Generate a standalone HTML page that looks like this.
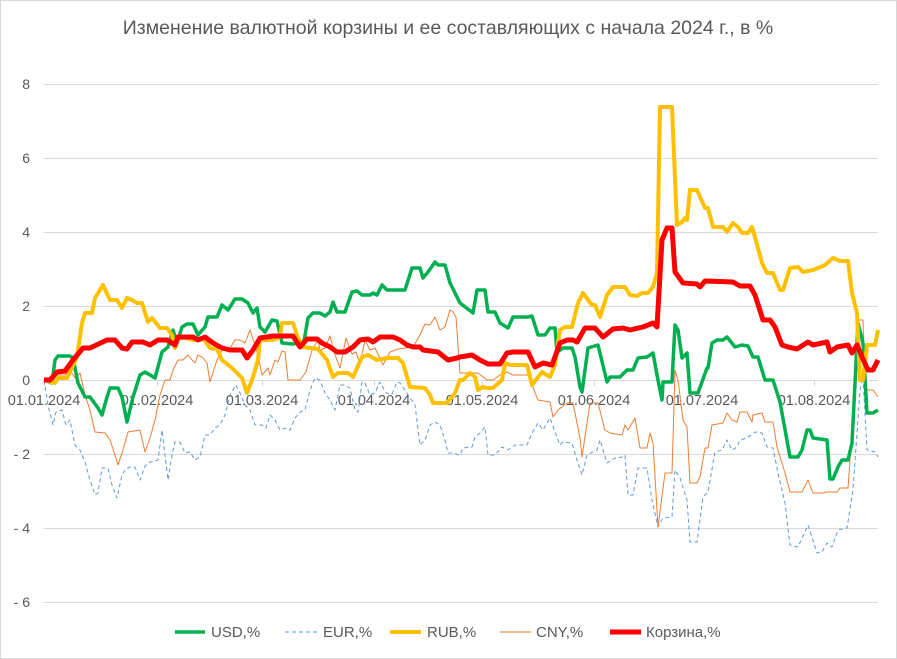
<!DOCTYPE html>
<html><head><meta charset="utf-8"><style>
body{margin:0;background:#fff}
svg{display:block;font-family:"Liberation Sans","DejaVu Sans",sans-serif}
</style></head><body>
<svg width="897" height="659" viewBox="0 0 897 659" xmlns="http://www.w3.org/2000/svg">
<rect x="0.5" y="0.5" width="896" height="658" fill="#fff" stroke="#d9d9d9"/>
<text x="448" y="34" text-anchor="middle" font-size="19.5" fill="#595959">Изменение валютной корзины и ее составляющих с начала 2024 г., в %</text>
<g stroke="#d9d9d9" stroke-width="1">
<line x1="44" x2="878" y1="84.5" y2="84.5"/><line x1="44" x2="878" y1="158.5" y2="158.5"/>
<line x1="44" x2="878" y1="232.5" y2="232.5"/><line x1="44" x2="878" y1="306.5" y2="306.5"/>
<line x1="44" x2="878" y1="380.5" y2="380.5"/><line x1="44" x2="878" y1="454.5" y2="454.5"/>
<line x1="44" x2="878" y1="528.5" y2="528.5"/><line x1="44" x2="878" y1="602.5" y2="602.5"/>
<line x1="44.5" x2="44.5" y1="380" y2="386"/><line x1="157.5" x2="157.5" y1="380" y2="386"/>
<line x1="262.5" x2="262.5" y1="380" y2="386"/><line x1="374.5" x2="374.5" y1="380" y2="386"/>
<line x1="482.5" x2="482.5" y1="380" y2="386"/><line x1="594.5" x2="594.5" y1="380" y2="386"/>
<line x1="702.5" x2="702.5" y1="380" y2="386"/><line x1="814.5" x2="814.5" y1="380" y2="386"/>
</g>
<g font-size="14" fill="#595959" text-anchor="end">
<text x="30" y="89">8</text><text x="30" y="163">6</text><text x="30" y="237">4</text><text x="30" y="311">2</text><text x="30" y="385">0</text>
<text x="30" y="459">- 2</text><text x="30" y="533">- 4</text><text x="30" y="607">- 6</text>
</g>
<g font-size="14.5" fill="#595959" text-anchor="middle">
<text x="44" y="405">01.01.2024</text><text x="157" y="405">01.02.2024</text><text x="262" y="405">01.03.2024</text><text x="374" y="405">01.04.2024</text>
<text x="482" y="405">01.05.2024</text><text x="594" y="405">01.06.2024</text><text x="702" y="405">01.07.2024</text><text x="814" y="405">01.08.2024</text>
</g>
<g fill="none" stroke-linejoin="round">
<polyline stroke="#5b9bd5" stroke-width="1" stroke-dasharray="4,3" points="44,380 48,405 53,425 56,412 62,410 66,425 70,420 75,445 80,450 85,462 90,480 95,495 98,493 102,468 108,468 112,485 117,498 122,475 125,470 130,467 135,467 140,480 145,466 150,462 158,460 162,430 168,480 172,455 175,442 180,442 185,453 190,452 195,460 200,457 205,435 210,435 215,428 220,425 225,415 230,395 236,385 240,393 245,405 250,410 255,425 262,425 266,428 270,415 275,420 280,430 285,428 290,430 295,418 300,412 305,410 310,390 315,378 320,380 325,393 330,400 335,410 340,385 345,385 350,388 355,410 358,412 362,382 365,383 370,395 375,393 380,382 386,393 392,394 397,382 400,383 405,390 410,398 415,405 420,445 425,440 430,425 435,422 440,425 445,440 448,453 452,453 460,455 463,448 472,447 475,437 480,433 485,427 488,455 495,455 502,447 508,450 515,445 527,445 532,433 538,423 543,430 550,418 555,432 560,445 563,442 572,443 577,460 582,475 587,455 597,450 600,440 607,463 615,458 622,457 625,455 628,495 633,495 638,468 647,468 652,500 658,527 663,518 672,517 675,470 680,478 687,500 690,542 697,542 703,497 708,492 715,452 722,450 727,440 732,450 737,447 740,440 747,438 755,432 762,433 767,447 773,448 778,473 785,503 790,545 798,547 808,525 817,553 822,552 827,543 832,547 838,530 847,528 853,490 860,390 863,377 867,450 875,452 878,457"/>
<polyline stroke="#ed7d31" stroke-width="1" points="44,380 52,382 57,375 65,375 70,370 75,378 80,373 85,395 90,410 95,432 105,433 110,440 115,455 118,465 123,450 128,432 140,430 145,452 150,438 155,420 160,395 165,380 170,380 173,370 178,360 183,360 188,355 192,360 195,363 198,355 203,358 207,363 210,382 217,360 222,350 230,348 235,340 240,340 245,343 250,330 255,345 258,355 262,375 268,368 270,375 275,360 278,362 282,351 285,352 288,380 300,380 306,372 312,350 318,340 320,350 325,348 330,336 335,355 340,368 346,338 352,354 356,352 360,364 365,340 370,350 375,348 383,365 390,352 398,349 413,347 420,335 425,324 430,325 435,317 440,330 445,327 450,310 453,312 456,317 460,373 478,373 487,380 493,380 500,375 507,372 513,375 528,375 538,400 550,402 553,417 558,410 567,403 573,403 580,438 582,457 590,403 598,403 605,430 610,433 622,435 625,425 628,430 635,418 640,448 647,448 650,433 653,443 658,527 665,473 672,473 675,370 678,380 683,420 687,427 690,483 697,483 700,477 705,448 708,448 712,425 723,423 727,413 732,420 737,422 740,412 747,412 752,422 753,415 762,413 765,422 773,422 777,447 785,473 790,492 802,492 808,480 813,493 823,493 827,492 837,492 840,488 848,488 855,390 858,320 863,320 865,390 873,390 878,397"/>
<polyline stroke="#00b050" stroke-width="3.5" points="44,380 52,383 55,360 58,356 70,356 73,358 78,383 85,397 90,397 98,408 102,415 107,397 110,388 118,388 122,397 127,422 133,397 140,375 145,372 150,375 155,378 162,352 168,347 173,330 177,343 182,327 187,324 193,324 198,335 205,327 208,317 217,317 222,305 228,310 235,299 242,299 248,303 253,313 257,308 260,327 265,332 272,320 277,321 282,343 293,344 297,343 303,347 308,318 313,313 320,313 325,316 330,312 333,302 337,312 345,312 352,292 357,291 362,295 370,295 373,293 377,295 382,285 387,290 405,290 412,268 420,268 423,278 428,272 435,262 438,265 445,265 450,283 455,293 460,303 473,313 477,290 485,290 488,312 495,312 500,323 508,328 513,317 528,317 532,316 538,335 545,335 550,328 555,328 557,352 563,348 572,348 575,357 580,387 582,392 588,348 598,345 607,382 610,377 620,377 627,370 633,370 638,358 647,357 653,353 657,375 662,400 663,382 672,382 675,325 678,330 682,358 687,353 690,393 698,393 707,368 708,368 712,343 717,340 723,340 727,337 735,347 742,345 748,346 753,357 758,357 765,380 773,380 780,402 790,457 798,457 802,450 807,430 810,430 813,438 827,440 830,479 833,479 838,467 842,460 848,460 852,443 858,323 863,343 867,413 873,413 878,410"/>
<polyline stroke="#ffc000" stroke-width="4" points="44,380 55,383 58,378 67,378 77,357 82,323 85,313 92,313 95,298 103,285 110,300 117,300 122,308 127,298 132,300 137,303 142,303 148,322 152,318 160,328 167,328 172,335 175,348 178,338 187,338 193,340 203,338 210,348 217,349 222,360 232,368 242,378 247,393 253,377 258,360 260,340 273,340 280,337 282,323 293,323 298,338 303,347 310,348 318,349 327,360 333,377 338,373 348,373 353,377 362,357 368,355 377,360 387,358 398,358 403,363 410,387 425,388 430,395 433,403 447,403 455,393 460,380 463,380 470,373 475,377 478,390 483,387 487,388 493,388 502,380 505,363 510,365 527,365 532,385 542,372 550,377 555,365 560,330 565,327 572,327 578,303 583,293 592,305 595,305 600,317 607,295 613,287 625,287 630,295 637,296 642,293 648,293 653,287 657,273 660,107 672,107 677,225 682,222 685,218 687,220 690,190 697,190 705,208 708,208 713,227 723,227 727,232 733,223 738,227 742,233 748,233 752,227 755,237 762,263 767,273 773,273 780,290 783,290 790,268 798,267 803,272 813,270 818,268 825,265 833,258 840,261 848,261 852,293 857,313 860,380 863,380 867,345 875,345 878,330"/>
<polyline stroke="#ff0000" stroke-width="5" points="44,380 50,380 57,372 65,371 73,360 83,348 90,348 107,340 115,340 122,348 127,349 132,342 143,342 150,345 158,340 167,340 175,345 178,337 193,337 198,340 205,337 213,343 222,348 230,350 242,350 247,358 253,350 260,338 273,336 293,336 300,347 307,339 317,339 322,343 330,347 337,352 345,352 353,347 360,340 368,339 373,342 380,337 393,337 400,340 407,345 413,347 420,347 423,350 438,352 448,360 457,358 460,357 472,355 480,360 488,364 500,364 507,353 513,352 528,352 535,367 543,363 552,365 560,343 567,340 573,340 577,342 585,328 595,328 603,337 613,329 623,328 630,330 643,327 653,323 657,327 662,240 667,228 672,228 675,272 683,283 697,284 700,287 705,281 733,282 740,286 750,286 755,295 763,320 770,320 775,327 782,345 788,347 797,349 808,342 813,345 827,342 830,352 837,347 848,345 852,353 857,345 862,357 868,370 873,370 878,360"/>
</g>
<g font-size="15" fill="#595959">
<line x1="175" x2="205" y1="632" y2="632" stroke="#00b050" stroke-width="3.5"/><text x="211" y="637">USD,%</text>
<line x1="285" x2="318" y1="632" y2="632" stroke="#5b9bd5" stroke-width="1" stroke-dasharray="4,3"/><text x="323" y="637">EUR,%</text>
<line x1="390" x2="421" y1="632" y2="632" stroke="#ffc000" stroke-width="4"/><text x="427" y="637">RUB,%</text>
<line x1="500" x2="531" y1="632" y2="632" stroke="#ed7d31" stroke-width="1"/><text x="536" y="637">CNY,%</text>
<line x1="610" x2="641" y1="632" y2="632" stroke="#ff0000" stroke-width="5"/><text x="646" y="637">Корзина,%</text>
</g>
</svg>
</body></html>
